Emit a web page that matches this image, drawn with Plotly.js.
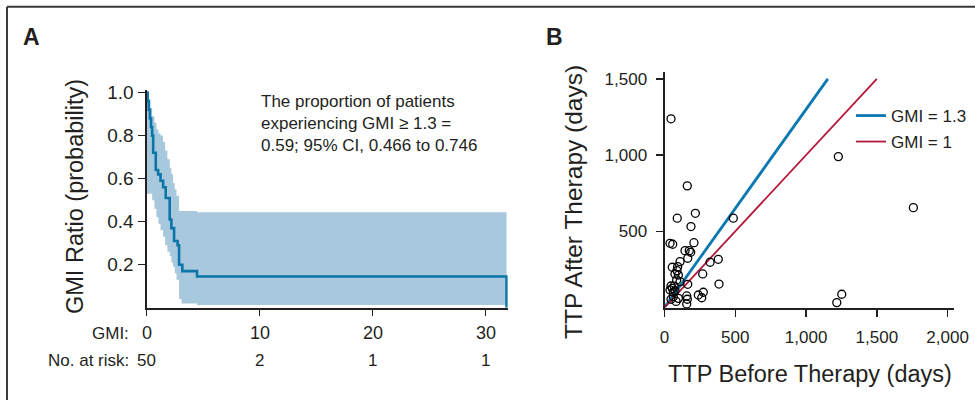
<!DOCTYPE html>
<html>
<head>
<meta charset="utf-8">
<script src="https://cdn.plot.ly/plotly-3.0.1.min.js"></script>
<style>html,body{margin:0;padding:0;background:#fff;}#chart{width:975px;height:400px;}</style>
</head>
<body>
<div id="chart"></div>
<script>
// ---------- Panel A: Kaplan-Meier style curve ----------
const kmTime = [0, 0.1, 0.2, 0.3, 0.4, 0.5, 0.59, 0.82, 1.03, 1.24, 1.47, 1.7, 2.05, 2.2, 2.44, 2.75, 2.88, 3.17, 4.47, 31.85, 31.85];
const kmProb = [1.0, 0.96, 0.92, 0.88, 0.84, 0.80, 0.72, 0.64, 0.62, 0.59, 0.56, 0.51, 0.41, 0.37, 0.31, 0.29, 0.20, 0.17, 0.145, 0.145, 0.0];

const ciTime  = [0, 0.15, 0.35, 0.5, 0.7, 0.88, 1.05, 1.24, 1.47, 1.65, 1.85, 2.06, 2.2, 2.35, 2.5, 2.65, 2.88, 3.1, 4.47, 31.85];
const ciUpper = [1.0, 0.97, 0.93, 0.89, 0.86, 0.83, 0.81, 0.80, 0.77, 0.73, 0.69, 0.65, 0.62, 0.58, 0.55, 0.52, 0.45, 0.45, 0.444, 0.444];
const ciLower = [0.53, 0.53, 0.53, 0.50, 0.46, 0.42, 0.39, 0.36, 0.33, 0.29, 0.26, 0.24, 0.21, 0.19, 0.16, 0.13, 0.04, 0.02, 0.012, 0.012];

const riskTicks = [0, 10, 20, 30];
const atRisk = [50, 2, 1, 1];
const probTicks = [0.2, 0.4, 0.6, 0.8, 1.0];

// ---------- Panel B: scatter ----------
const ttpBefore = [46, 1228, 1758, 1252, 1217, 161, 218, 90, 187, 486,
  39, 58, 208, 145, 175, 185, 164, 110, 322, 380,
  55, 93, 88, 74, 98, 270, 86, 110, 46, 55,
  39, 164, 385, 74, 274, 239, 263, 157, 161, 157,
  62, 98, 46, 68, 82, 62];
const ttpAfter = [1238, 990, 655, 87, 32, 798, 618, 586, 531, 586,
  421, 415, 425, 373, 373, 362, 323, 301, 297, 316,
  264, 268, 242, 220, 213, 220, 181, 170, 141, 126,
  115, 152, 154, 110, 100, 82, 64, 76, 54, 23,
  71, 60, 54, 140, 40, 100];

const gmiRatios = [1.3, 1];
const gmiNames = ['GMI = 1.3', 'GMI = 1'];
const gmiTop = 1500;
const xTicksB = [0, 500, 1000, 1500, 2000];
const yTicksB = [500, 1000, 1500];

const FONT = 'Liberation Sans, Arial, Helvetica, sans-serif';
const INK = '#231f20';
const BAND = '#a8c9dd';
const KMBLUE = '#0b74a8';
const GMICOL = ['#0b78b0', '#b5173a'];
const GMIW = [2.8, 1.8];

const traces = [];
traces.push({x: ciTime, y: ciUpper, xaxis: 'x', yaxis: 'y', mode: 'lines',
  line: {width: 0, shape: 'hv', color: BAND}, showlegend: false, hoverinfo: 'skip'});
traces.push({x: ciTime, y: ciLower, xaxis: 'x', yaxis: 'y', mode: 'lines',
  line: {width: 0, shape: 'hv', color: BAND}, fill: 'tonexty', fillcolor: BAND,
  showlegend: false, hoverinfo: 'skip'});
traces.push({x: kmTime, y: kmProb, xaxis: 'x', yaxis: 'y', mode: 'lines',
  line: {width: 2.6, shape: 'hv', color: KMBLUE}, showlegend: false});

gmiRatios.forEach((r, i) => {
  traces.push({x: [0, gmiTop / r], y: [0, gmiTop], xaxis: 'x2', yaxis: 'y2', mode: 'lines',
    line: {width: GMIW[i], color: GMICOL[i]}, name: gmiNames[i],
    legend: i === 0 ? 'legend' : 'legend2', showlegend: true});
});
traces.push({x: ttpBefore, y: ttpAfter, xaxis: 'x2', yaxis: 'y2', mode: 'markers',
  marker: {symbol: 'circle-open', size: 8, color: '#000', line: {width: 1.3, color: '#000'}},
  showlegend: false, cliponaxis: false});

const annotations = [];
// at-risk table
annotations.push({xref: 'paper', yref: 'paper', x: 131 / 975, y: (400 - 333) / 400, xanchor: 'right', yanchor: 'middle',
  text: 'GMI:', showarrow: false, font: {size: 17, color: INK, family: FONT}});
annotations.push({xref: 'paper', yref: 'paper', x: 131 / 975, y: (400 - 360) / 400, xanchor: 'right', yanchor: 'middle',
  text: 'No. at risk:', showarrow: false, font: {size: 17, color: INK, family: FONT}});
riskTicks.forEach((t, i) => {
  annotations.push({xref: 'x', yref: 'paper', x: t, y: (400 - 333) / 400, xanchor: 'center', yanchor: 'middle',
    text: String(t), showarrow: false, font: {size: 18, color: INK, family: FONT}});
  annotations.push({xref: 'x', yref: 'paper', x: t, y: (400 - 360) / 400, xanchor: 'center', yanchor: 'middle',
    text: String(atRisk[i]), showarrow: false, font: {size: 17, color: INK, family: FONT}});
});
// note text
annotations.push({xref: 'paper', yref: 'paper', x: 259 / 975, y: (400 - 123.5) / 400, xanchor: 'left', yanchor: 'middle', align: 'left',
  text: 'The proportion of patients<br>experiencing GMI \u2265 1.3 =<br>0.59; 95% CI, 0.466 to 0.746',
  showarrow: false, font: {size: 17, color: INK, family: FONT}});
// axis titles
annotations.push({xref: 'paper', yref: 'paper', x: 75 / 975, y: (400 - 197) / 400, xanchor: 'center', yanchor: 'middle',
  textangle: -90, text: 'GMI Ratio (probability)', showarrow: false, font: {size: 23.5, color: INK, family: FONT}});
annotations.push({xref: 'paper', yref: 'paper', x: 573 / 975, y: (400 - 202) / 400, xanchor: 'center', yanchor: 'middle',
  textangle: -90, text: 'TTP After Therapy (days)', showarrow: false, font: {size: 24.5, color: INK, family: FONT}});
annotations.push({xref: 'paper', yref: 'paper', x: 809.5 / 975, y: (400 - 374) / 400, xanchor: 'center', yanchor: 'middle',
  text: 'TTP Before Therapy (days)', showarrow: false, font: {size: 23.5, color: INK, family: FONT}});
// panel letters
annotations.push({xref: 'paper', yref: 'paper', x: 31.7 / 975, y: (400 - 37) / 400, xanchor: 'center', yanchor: 'middle',
  text: '<b>A</b>', showarrow: false, font: {size: 23, color: INK, family: FONT}});
annotations.push({xref: 'paper', yref: 'paper', x: 554.7 / 975, y: (400 - 37) / 400, xanchor: 'center', yanchor: 'middle',
  text: '<b>B</b>', showarrow: false, font: {size: 23, color: INK, family: FONT}});

const axisCommon = {showgrid: false, zeroline: false, showline: true, linecolor: INK, linewidth: 2,
  ticks: 'outside', tickcolor: INK, tickwidth: 1.5, fixedrange: true,
  tickfont: {size: 17, color: INK, family: FONT}};

const layout = {
  width: 975, height: 400,
  margin: {l: 0, r: 0, t: 0, b: 0},
  paper_bgcolor: '#fff', plot_bgcolor: 'rgba(0,0,0,0)',
  font: {family: FONT, color: INK},
  separators: '.,',
  xaxis: Object.assign({}, axisCommon, {domain: [146.5 / 975, 507.7 / 975], range: [0, 31.95],
    tickvals: riskTicks, showticklabels: false, ticklen: 6, anchor: 'y', automargin: false}),
  yaxis: Object.assign({}, axisCommon, {domain: [(400 - 307.7) / 400, (400 - 90) / 400], range: [0, 1.012],
    tickvals: probTicks, tickformat: '.1f', ticklen: 7, anchor: 'x', automargin: false,
    tickfont: {size: 19, color: INK, family: FONT}}),
  xaxis2: Object.assign({}, axisCommon, {domain: [664.5 / 975, 954 / 975], range: [0, 2045],
    tickvals: xTicksB, tickformat: ',d', ticklen: 7, ticklabelstandoff: 6, anchor: 'y2', automargin: false}),
  yaxis2: Object.assign({}, axisCommon, {domain: [(400 - 307.5) / 400, (400 - 72) / 400], range: [0, 1545],
    tickvals: yTicksB, tickformat: ',d', ticklen: 7, ticklabelstandoff: 5, anchor: 'x2', automargin: false}),
  legend: {x: 851 / 975, y: (400 - 116) / 400, xanchor: 'left', yanchor: 'middle', bgcolor: 'rgba(0,0,0,0)',
    font: {size: 17, color: INK, family: FONT}, itemwidth: 30},
  legend2: {x: 851 / 975, y: (400 - 142) / 400, xanchor: 'left', yanchor: 'middle', bgcolor: 'rgba(0,0,0,0)',
    font: {size: 17, color: INK, family: FONT}, itemwidth: 30},
  annotations: annotations,
  shapes: [
    {type: 'line', xref: 'paper', yref: 'paper', x0: 7 / 975, x1: 1, y0: (400 - 6.7) / 400, y1: (400 - 6.7) / 400,
      line: {color: '#3a3a3a', width: 2}},
    {type: 'line', xref: 'paper', yref: 'paper', x0: 7 / 975, x1: 7 / 975, y0: 0, y1: (400 - 6.7) / 400,
      line: {color: '#3a3a3a', width: 2}}
  ]
};

Plotly.newPlot('chart', traces, layout, {displayModeBar: false, staticPlot: true});
</script>
</body>
</html>
